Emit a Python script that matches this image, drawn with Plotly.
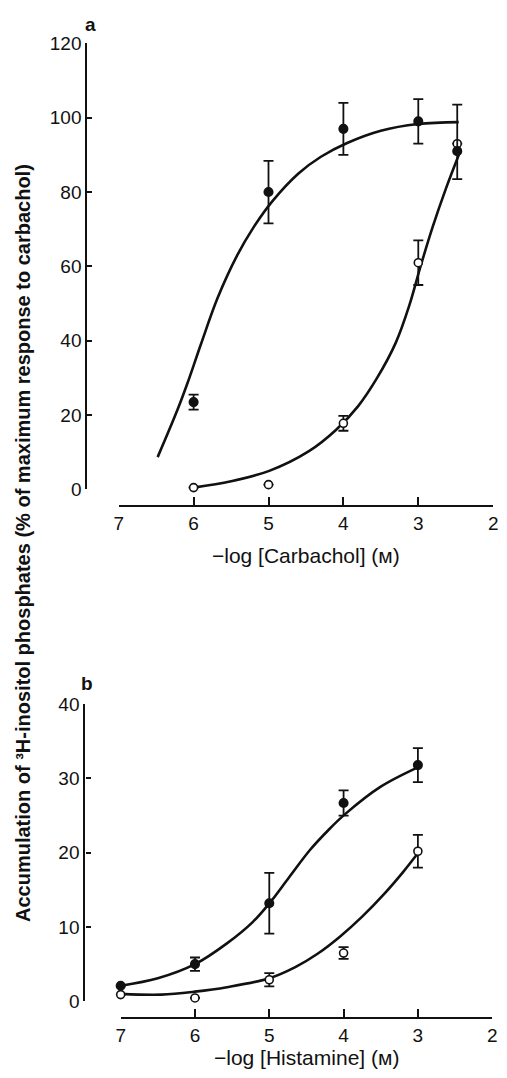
import plotly.graph_objects as go

# ---- Panel a: carbachol ----
carb_x = [6, 5, 4, 3, 2.48]
carb_ctrl_y = [23.5, 80, 97, 99, 91]
carb_ctrl_err_plus = [2, 8.4, 7, 6, 12.5]
carb_ctrl_err_minus = [2, 8.4, 7, 6, 7.5]
carb_treat_y = [0.5, 1.3, 17.8, 61, 93]
carb_treat_err = [0, 0, 2, 6, 0]

carb_ctrl_fit_x = [6.48, 6.21, 6.08, 5.90, 5.68, 5.42, 5.20, 4.95, 4.60, 4.30, 3.95, 3.50, 3.00, 2.46]
carb_ctrl_fit_y = [8.7, 21.7, 28.7, 39.2, 51.5, 62.9, 70.5, 77.5, 85.0, 89.5, 93.2, 96.5, 98.3, 98.8]
carb_treat_fit_x = [6.0, 5.5, 4.99, 4.46, 4.10, 3.80, 3.55, 3.30, 3.12, 2.97, 2.81, 2.63, 2.44]
carb_treat_fit_y = [0.5, 2.2, 5.0, 10.3, 16.0, 22.5, 30.0, 39.5, 49.5, 60.0, 70.5, 81.0, 91.0]

# ---- Panel b: histamine ----
hist_x = [7, 6, 5, 4, 3]
hist_ctrl_y = [2.1, 5.0, 13.2, 26.7, 31.8]
hist_ctrl_err = [0, 0.9, 4.1, 1.7, 2.3]
hist_treat_y = [0.9, 0.45, 2.9, 6.5, 20.2]
hist_treat_err = [0, 0, 0.9, 0.8, 2.2]

hist_ctrl_fit_x = [7.0, 6.50, 6.0, 5.57, 5.22, 4.99, 4.74, 4.45, 4.20, 3.98, 3.50, 2.98]
hist_ctrl_fit_y = [2.1, 3.1, 5.0, 7.8, 10.7, 13.3, 16.6, 20.4, 23.1, 25.2, 28.9, 31.6]
hist_treat_fit_x = [7.0, 6.45, 6.0, 5.57, 5.0, 4.65, 4.35, 4.05, 3.75, 3.45, 3.20, 2.98]
hist_treat_fit_y = [1.0, 0.9, 1.3, 1.9, 3.1, 4.6, 6.4, 8.7, 11.4, 14.5, 17.4, 20.2]

x_ticks = [7, 6, 5, 4, 3, 2]
carb_y_ticks = [0, 20, 40, 60, 80, 100, 120]
hist_y_ticks = [0, 10, 20, 30, 40]

W, H = 507, 1078
FONT = "Liberation Sans, Arial, Helvetica, sans-serif"
BLACK = "#111111"


def px_x(v):
    return v / W


def px_y(v):
    return 1 - v / H


fig = go.Figure()


def add_fit(xs, ys, xa, ya):
    fig.add_trace(go.Scatter(
        x=xs, y=ys, xaxis=xa, yaxis=ya, mode="lines",
        line=dict(color=BLACK, width=2.6, shape="spline", smoothing=1.0),
        hoverinfo="skip"))


def add_points(xs, ys, ep, em, filled, xa, ya):
    fig.add_trace(go.Scatter(
        x=xs, y=ys, xaxis=xa, yaxis=ya, mode="markers",
        cliponaxis=False,
        error_y=dict(type="data", array=ep, arrayminus=em, symmetric=False,
                     color=BLACK, thickness=1.8, width=5),
        marker=dict(size=8.5 if filled else 8,
                    color=BLACK if filled else "white",
                    line=dict(color=BLACK, width=1.6)),
    ))


add_fit(carb_ctrl_fit_x, carb_ctrl_fit_y, "x", "y")
add_fit(carb_treat_fit_x, carb_treat_fit_y, "x", "y")
add_points(carb_x, carb_treat_y, carb_treat_err, carb_treat_err, False, "x", "y")
add_points(carb_x, carb_ctrl_y, carb_ctrl_err_plus, carb_ctrl_err_minus, True, "x", "y")

add_fit(hist_ctrl_fit_x, hist_ctrl_fit_y, "x2", "y2")
add_fit(hist_treat_fit_x, hist_treat_fit_y, "x2", "y2")
add_points(hist_x, hist_treat_y, hist_treat_err, hist_treat_err, False, "x2", "y2")
add_points(hist_x, hist_ctrl_y, hist_ctrl_err, hist_ctrl_err, True, "x2", "y2")

common_x = dict(range=[7, 2], tickvals=x_ticks, showline=True, linewidth=2.2,
                linecolor=BLACK, ticks="inside", ticklen=8, tickwidth=2.2,
                tickcolor=BLACK, showgrid=False, zeroline=False,
                tickfont=dict(size=19, color=BLACK, family=FONT),
                anchor="free")
common_y = dict(showline=True, linewidth=2.2, linecolor=BLACK, ticks="inside",
                ticklen=5, tickwidth=2, tickcolor=BLACK, showgrid=False,
                zeroline=False, tickfont=dict(size=19, color=BLACK, family=FONT),
                anchor="free")

fig.update_layout(
    width=W, height=H,
    margin=dict(l=0, r=0, t=0, b=0),
    paper_bgcolor="white", plot_bgcolor="white",
    showlegend=False,
    font=dict(family=FONT, color=BLACK),
    xaxis=dict(domain=[px_x(116), px_x(498)], position=px_y(506), **common_x),
    yaxis=dict(domain=[px_y(489), px_y(34)], range=[0, 120], tickvals=carb_y_ticks,
               position=px_x(83), **common_y),
    xaxis2=dict(domain=[px_x(118), px_x(497)], position=px_y(1028), **common_x),
    yaxis2=dict(domain=[px_y(1011), px_y(708)], range=[0, 40], tickvals=hist_y_ticks,
                position=px_x(81), **common_y),
)

annotations = [
    dict(text="a", x=px_x(87), y=px_y(15), font=dict(size=19, family=FONT, weight="bold")),
    dict(text="b", x=px_x(84), y=px_y(687), font=dict(size=19, family=FONT, weight="bold")),
    dict(text="\u2212log [Carbachol] (\u043c)", x=px_x(307), y=px_y(556),
         font=dict(size=21, family=FONT)),
    dict(text="\u2212log [Histamine] (\u043c)", x=px_x(308), y=px_y(1068),
         font=dict(size=21, family=FONT)),
    dict(text="Accumulation of \u00b3H-inositol phosphates (% of maximum response to carbachol)",
         x=px_x(19), y=px_y(544), textangle=-90,
         font=dict(size=20, family=FONT, weight="bold")),
]
for a in annotations:
    fig.add_annotation(xref="paper", yref="paper", showarrow=False,
                       xanchor="center", yanchor="middle", **a)

fig.write_html("out.html")
